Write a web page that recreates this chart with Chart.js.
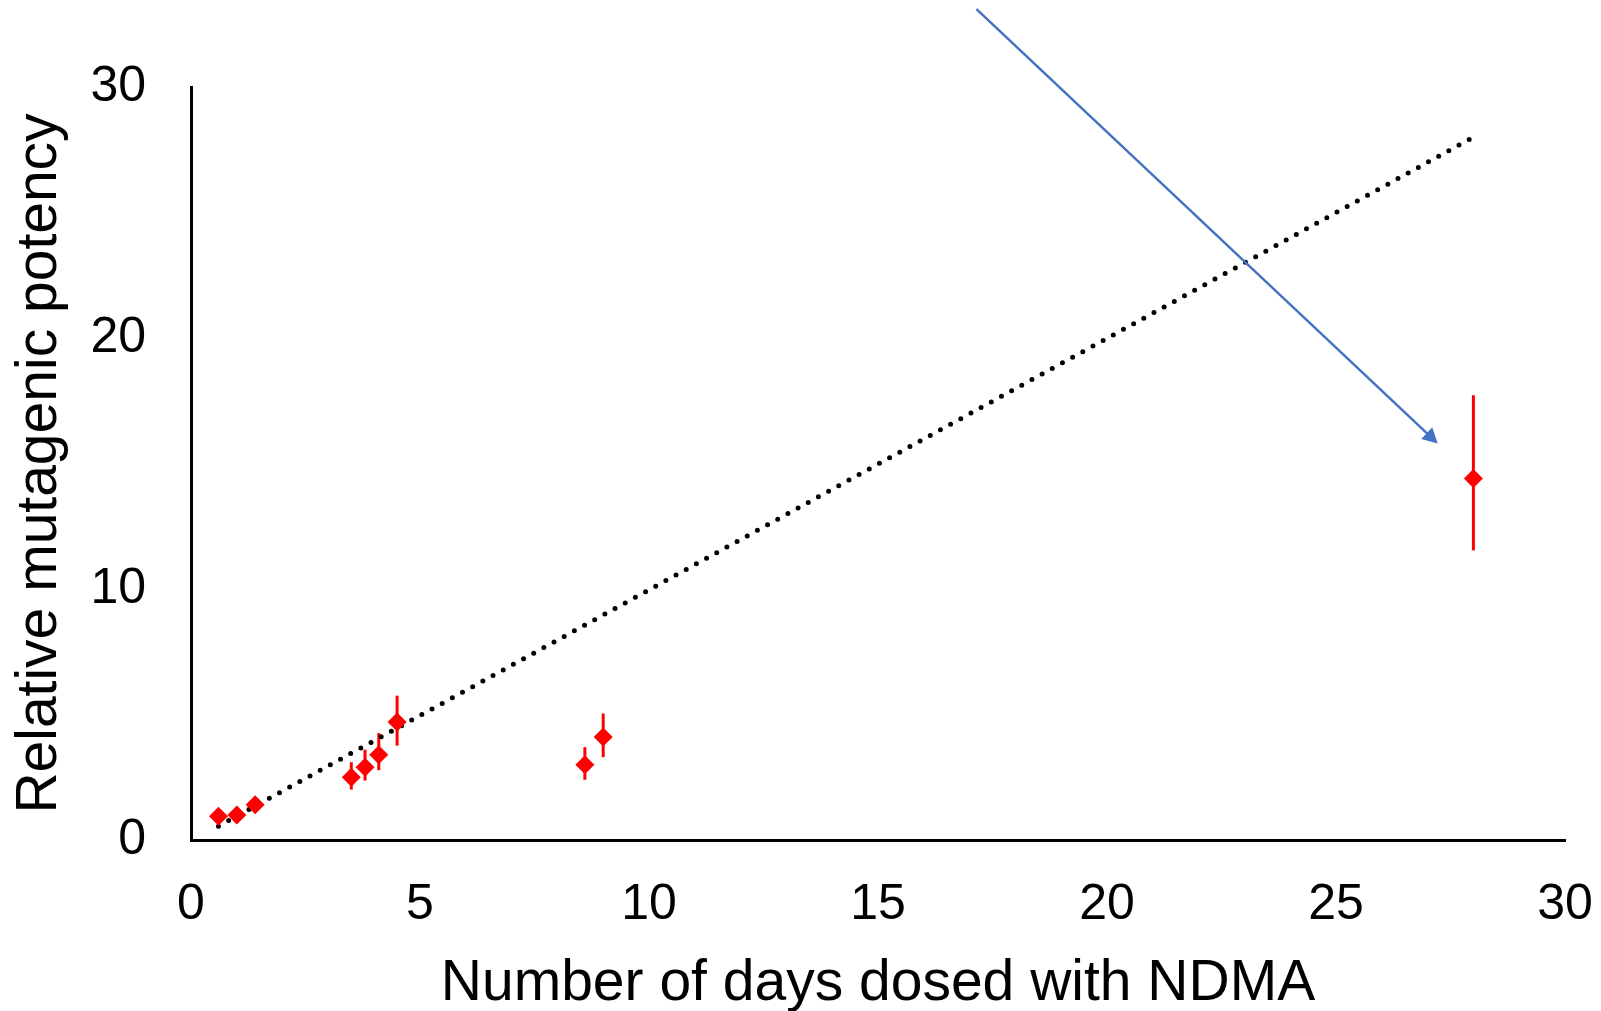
<!DOCTYPE html>
<html>
<head>
<meta charset="utf-8">
<title>Relative mutagenic potency vs days dosed with NDMA</title>
<script src="https://cdn.jsdelivr.net/npm/chart.js@4/dist/chart.umd.min.js"></script>
<style>
  html, body { margin: 0; padding: 0; background: #ffffff; }
  canvas { display: block; }
</style>
</head>
<body>
<canvas id="chart" width="1601" height="1011"></canvas>
<script>
// Measured potency per dosing duration
const days        = [0.6, 1.0, 1.4, 3.5, 3.8, 4.1, 4.5, 8.6, 9.0, 28.0];
const potency     = [0.95, 1.0, 1.4, 2.5, 2.9, 3.4, 4.7, 3.0, 4.1, 14.4];
// Error bar extents above and below each value
const errUp       = [0.1, 0.1, 0.15, 0.6, 0.7, 0.86, 1.05, 0.7, 0.94, 3.32];
const errDown     = [0.1, 0.1, 0.15, 0.49, 0.53, 0.62, 0.94, 0.6, 0.8, 2.86];

// Dotted reference line (start / end)
const trendDays    = [0.6, 28.0];
const trendPotency = [0.55, 28.0];

// Axis ticks
const xTickValues = [0, 5, 10, 15, 20, 25, 30];
const yTickValues = [0, 10, 20, 30];

// Call-out arrow, in data units: [x, y] tail and head
const arrowTail = [17.15, 33.1];
const arrowHead = [27.22, 15.8];

const FONT = "'Liberation Sans', Arial, sans-serif";

const pointData = days.map((d, i) => ({ x: d, y: potency[i] }));
const trendData = trendDays.map((d, i) => ({ x: d, y: trendPotency[i] }));

// Vertical error bars behind the markers
const errorBars = {
  id: 'errorBars',
  beforeDatasetsDraw(chart) {
    const { ctx, scales: { x, y } } = chart;
    ctx.save();
    ctx.strokeStyle = '#ff0000';
    ctx.lineWidth = 3;
    days.forEach((d, i) => {
      const px = x.getPixelForValue(d);
      ctx.beginPath();
      ctx.moveTo(px, y.getPixelForValue(potency[i] - errDown[i]));
      ctx.lineTo(px, y.getPixelForValue(potency[i] + errUp[i]));
      ctx.stroke();
    });
    ctx.restore();
  }
};

// Blue call-out arrow
const calloutArrow = {
  id: 'calloutArrow',
  afterDatasetsDraw(chart) {
    const { ctx, scales: { x, y } } = chart;
    const x0 = x.getPixelForValue(arrowTail[0]), y0 = y.getPixelForValue(arrowTail[1]);
    const x1 = x.getPixelForValue(arrowHead[0]), y1 = y.getPixelForValue(arrowHead[1]);
    const ang = Math.atan2(y1 - y0, x1 - x0);
    const headLen = 15, headHalf = 8;
    ctx.save();
    ctx.strokeStyle = '#4472c4';
    ctx.fillStyle = '#4472c4';
    ctx.lineWidth = 2.5;
    ctx.beginPath();
    ctx.moveTo(x0, y0);
    ctx.lineTo(x1 - Math.cos(ang) * headLen * 0.8, y1 - Math.sin(ang) * headLen * 0.8);
    ctx.stroke();
    const bx = x1 - Math.cos(ang) * headLen, by = y1 - Math.sin(ang) * headLen;
    ctx.beginPath();
    ctx.moveTo(x1, y1);
    ctx.lineTo(bx + Math.sin(ang) * headHalf, by - Math.cos(ang) * headHalf);
    ctx.lineTo(bx - Math.sin(ang) * headHalf, by + Math.cos(ang) * headHalf);
    ctx.closePath();
    ctx.fill();
    ctx.restore();
  }
};

new Chart(document.getElementById('chart'), {
  type: 'scatter',
  data: {
    datasets: [
      {
        label: 'Relative mutagenic potency',
        data: pointData,
        pointStyle: 'rectRot',
        pointRadius: 9.5,
        pointHoverRadius: 9.5,
        backgroundColor: '#ff0000',
        borderColor: '#ff0000',
        borderWidth: 0,
        showLine: false
      },
      {
        label: 'Reference line',
        data: trendData,
        showLine: true,
        pointRadius: 0,
        borderColor: '#000000',
        borderWidth: 5,
        borderDash: [0, 11.6],
        borderCapStyle: 'round',
        fill: false
      }
    ]
  },
  options: {
    responsive: false,
    animation: false,
    devicePixelRatio: 1,
    layout: { padding: { top: 87, right: 36, left: 0, bottom: 0 } },
    plugins: {
      legend: { display: false },
      tooltip: { enabled: false }
    },
    scales: {
      x: {
        type: 'linear',
        min: 0,
        max: 30,
        afterBuildTicks: (scale) => { scale.ticks = xTickValues.map(v => ({ value: v })); },
        afterFit: (scale) => {
          scale.height = 171;
          scale.paddingLeft = 0;
          scale.paddingRight = 0;
        },
        grid: { display: false, drawTicks: false },
        border: { display: true, color: '#000000', width: 3 },
        ticks: {
          color: '#000000',
          padding: 35,
          maxRotation: 0,
          font: { family: FONT, size: 50 }
        },
        title: {
          display: true,
          text: 'Number of days dosed with NDMA',
          color: '#000000',
          font: { family: FONT, size: 57, lineHeight: 1 },
          padding: { top: 0, bottom: -2 }
        }
      },
      y: {
        type: 'linear',
        min: 0,
        max: 30,
        afterBuildTicks: (scale) => { scale.ticks = yTickValues.map(v => ({ value: v })); },
        afterFit: (scale) => { scale.width = 191; },
        grid: { display: false, drawTicks: false },
        border: { display: true, color: '#000000', width: 3 },
        ticks: {
          color: '#000000',
          padding: 45,
          font: { family: FONT, size: 50 }
        },
        title: {
          display: true,
          text: 'Relative mutagenic potency',
          color: '#000000',
          font: { family: FONT, size: 57, lineHeight: 1 },
          padding: { top: 12, bottom: 0 }
        }
      }
    }
  },
  plugins: [errorBars, calloutArrow]
});
</script>
</body>
</html>
